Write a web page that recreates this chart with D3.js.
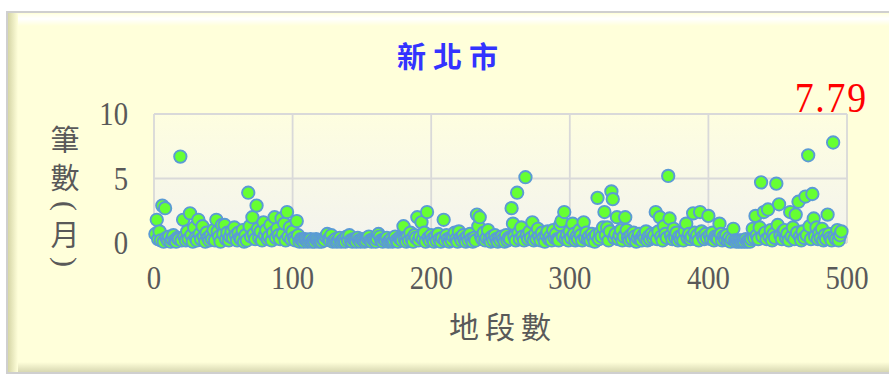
<!DOCTYPE html>
<html><head><meta charset="utf-8">
<script src="https://cdn.jsdelivr.net/npm/d3@7"></script>
<style>html,body{margin:0;padding:0;background:#fff;}svg{display:block;}</style>
</head><body>
<svg id="c" width="889" height="377"></svg>
<script>
const title = "新北市";
const xTitle = "地段數";
const yTitleChars = ["筆","數","(","月",")"];
const maxLabel = "7.79";
const xTicks = [0,100,200,300,400,500];
const yTicks = [0,5,10];
const xDomain = [0,500];
const yDomain = [0,10];
// 筆數(月) per 地段, x = index + 1
const values = [
0.7,1.8,0.3,0.9,0.2,2.9,0.1,2.7,0.4,0.2,0.5,0.1,0.3,0.6,0.2,0.1,0.4,0.3,6.7,0.2,
1.8,0.5,0.2,0.9,0.3,2.3,0.6,0.1,1.2,0.4,0.2,1.8,0.7,0.3,1.3,0.5,0.1,0.8,0.4,0.2,
0.6,0.3,1.0,0.2,1.8,0.9,0.5,0.1,1.4,0.7,1.4,0.3,0.8,0.2,0.5,0.9,0.4,1.2,0.6,0.2,
0.8,0.4,0.3,1.0,0.1,0.6,0.2,3.9,1.3,0.5,2.0,0.7,0.3,2.9,1.1,0.4,0.9,0.2,1.6,0.6,
1.0,0.3,0.5,1.4,0.2,0.8,2.0,0.4,1.1,0.6,0.3,1.9,0.7,1.5,0.2,2.4,0.5,1.2,0.3,0.9,
0.4,0.2,1.7,0.6,0.1,0.3,0.2,0.1,0.3,0.2,0.1,0.2,0.3,0.1,0.2,0.1,0.3,0.2,0.1,0.2,
0.1,0.3,0.2,0.5,0.7,0.3,0.2,0.6,0.1,0.2,0.3,0.1,0.2,0.4,0.1,0.2,0.3,0.1,0.5,0.2,
0.6,0.2,0.1,0.3,0.2,0.1,0.4,0.2,0.1,0.3,0.2,0.1,0.2,0.4,0.5,0.2,0.1,0.3,0.2,0.1,
0.3,0.7,0.5,0.2,0.1,0.3,0.2,0.4,0.1,0.2,0.3,0.1,0.2,0.5,0.2,0.1,0.4,0.3,0.2,1.3,
0.3,0.1,0.5,0.2,0.8,0.3,0.1,0.6,0.4,2.0,0.2,0.5,1.6,0.3,0.8,0.1,2.4,0.4,0.2,0.6,
0.3,0.1,0.5,0.2,0.7,0.3,0.1,0.4,1.8,0.2,0.6,0.3,0.1,0.4,0.2,0.5,0.8,0.3,0.1,0.9,
0.4,0.2,0.6,0.3,0.1,0.5,0.2,0.7,0.3,0.1,0.4,0.2,2.2,1.3,2.0,0.5,0.3,0.8,0.2,0.4,
1.0,0.3,0.1,0.5,0.2,0.6,0.3,0.1,0.4,0.2,0.5,0.3,0.1,0.6,0.2,0.4,0.3,2.7,1.5,0.5,
0.2,3.9,0.8,0.3,1.2,0.5,0.2,5.1,0.6,0.3,0.9,0.4,1.6,0.2,0.7,0.3,1.1,0.5,0.2,0.8,
0.4,0.1,0.6,0.9,0.3,0.5,0.2,1.0,0.4,0.7,0.3,0.2,1.4,1.7,0.5,2.4,0.3,0.6,0.2,0.9,
0.4,1.5,0.7,0.2,0.5,0.3,1.0,0.6,0.2,1.6,0.4,0.8,0.3,0.5,0.2,0.7,0.4,0.1,0.6,3.5,
0.3,0.8,0.5,1.2,2.4,0.6,1.2,0.2,0.9,4.0,3.4,0.4,0.7,2.0,0.3,0.6,1.0,0.2,0.5,2.0,
1.0,0.4,0.2,0.6,0.3,0.8,0.5,0.1,0.4,0.7,0.3,0.2,0.6,0.4,0.9,0.2,0.5,0.3,0.7,0.4,
0.6,2.4,0.3,0.9,2.0,0.5,0.2,1.3,0.7,0.4,5.2,1.9,0.6,0.3,1.1,0.4,0.8,0.2,0.5,0.3,
0.6,0.2,0.9,1.5,0.4,0.7,0.3,0.5,2.3,0.8,0.3,0.6,0.2,2.4,0.9,0.5,0.3,0.7,0.4,2.1,
0.6,0.3,0.8,0.2,0.5,0.4,0.3,1.5,0.7,0.2,0.5,0.3,0.6,0.2,0.4,0.1,0.3,1.1,0.2,0.1,
0.2,0.1,0.2,0.1,0.2,0.1,0.3,0.1,0.2,0.1,0.3,1.1,0.4,2.1,0.6,0.3,1.2,4.7,0.5,2.4,
0.8,0.3,2.6,0.5,1.0,0.2,0.7,0.4,4.6,1.4,3.0,0.6,0.3,0.9,1.0,0.4,0.7,0.2,2.4,0.5,
1.2,0.3,2.2,0.8,3.2,0.5,0.2,0.9,0.4,3.6,0.6,6.8,1.3,0.3,3.8,1.9,0.5,1.2,0.3,0.8,
0.4,1.1,0.2,0.6,0.3,2.2,0.7,0.4,0.2,7.79,0.5,0.3,1.0,0.2,0.6,0.9
];

const svg = d3.select("#c");
const defs = svg.append("defs");
function lg(id, x2, y2, stops){
  const g = defs.append("linearGradient").attr("id",id).attr("x1",0).attr("y1",0).attr("x2",x2).attr("y2",y2);
  stops.forEach(s=>g.append("stop").attr("offset",s[0]).attr("stop-color",s[1]));
}
lg("plotbg",0,1,[[0,"#fefee0"],[1,"#f3f3ee"]]);
lg("leftbev",1,0,[[0,"#d6d6a6"],[1,"#ffffda"]]);
lg("topbev",0,1,[[0,"#ffffe8"],[0.4,"#ffffff"],[1,"#ffffda"]]);
lg("botbev",0,1,[[0,"#ffffda"],[1,"#d8d8b2"]]);

// frame
svg.append("rect").attr("x",7).attr("y",12).attr("width",884).attr("height",361).attr("fill","#ffffda");
svg.append("rect").attr("x",8).attr("y",14).attr("width",884).attr("height",12).attr("fill","url(#topbev)");
svg.append("rect").attr("x",8).attr("y",362).attr("width",884).attr("height",10).attr("fill","url(#botbev)");
svg.append("rect").attr("x",8).attr("y",13).attr("width",10).attr("height",359).attr("fill","url(#leftbev)");
svg.append("rect").attr("x",7).attr("y",12).attr("width",884).attr("height",361).attr("fill","none").attr("stroke","#cfcfcf").attr("stroke-width",2);

const x = d3.scaleLinear().domain(xDomain).range([154,847]);
const y = d3.scaleLinear().domain(yDomain).range([243,114]);

// plot area
svg.append("rect").attr("x",x(0)).attr("y",y(10)).attr("width",x(500)-x(0)).attr("height",y(0)-y(10)).attr("fill","url(#plotbg)");
const grid = svg.append("g").attr("stroke","#d9d9d9").attr("stroke-width",1.8);
xTicks.forEach(t=>grid.append("line").attr("x1",x(t)).attr("x2",x(t)).attr("y1",y(10)).attr("y2",y(0)));
yTicks.forEach(t=>grid.append("line").attr("x1",x(0)).attr("x2",x(500)).attr("y1",y(t)).attr("y2",y(t)));

// points
svg.append("g").selectAll("circle").data(values).join("circle")
  .attr("cx",(d,i)=>x(i+1)).attr("cy",d=>y(d)).attr("r",6.2)
  .attr("fill","#66ff33").attr("stroke","#5b9bd5").attr("stroke-width",1.9);

const numFont = "'Liberation Serif', 'DejaVu Serif', serif";
// y tick labels
svg.append("g").selectAll("text").data(yTicks).join("text")
  .attr("transform",d=>`translate(128,${y(d)+11}) scale(0.87,1)`)
  .attr("text-anchor","end").attr("font-family",numFont).attr("font-size",33).attr("fill","#595959")
  .text(d=>d);
// x tick labels
svg.append("g").selectAll("text").data(xTicks).join("text")
  .attr("transform",d=>`translate(${x(d)},${289}) scale(0.87,1)`)
  .attr("text-anchor","middle").attr("font-family",numFont).attr("font-size",33).attr("fill","#595959")
  .text(d=>d);

const cjk = "'Noto Sans CJK TC','Noto Sans CJK SC',sans-serif";
// title
svg.append("text").attr("x",451).attr("y",68).attr("text-anchor","middle")
  .attr("font-family",cjk).attr("font-weight","bold").attr("font-size",29).attr("letter-spacing",7)
  .attr("fill","#3333ff").text(title);
// x title
svg.append("text").attr("x",503).attr("y",338).attr("text-anchor","middle")
  .attr("font-family",cjk).attr("font-size",30).attr("letter-spacing",6)
  .attr("fill","#595959").text(xTitle);
// y title (vertical, parentheses turned)
const yPos = [141,179,206,236,262];
const yt = svg.append("g");
yTitleChars.forEach((c,i)=>{
  const isParen = (c==="(" || c===")");
  yt.append("text")
    .attr("transform", isParen ? `translate(65,${yPos[i]}) rotate(90)` : `translate(65,${yPos[i]})`)
    .attr("dy", isParen ? "0.3em" : "0.36em").attr("text-anchor","middle")
    .attr("font-family", isParen ? numFont : cjk)
    .attr("font-size", isParen ? 30 : 29).attr("fill","#595959").text(c);
});
// max label
svg.append("text").attr("transform","translate(868,112) scale(0.9,1)").attr("text-anchor","end")
  .attr("font-family",numFont).attr("font-size",42).attr("letter-spacing",2).attr("fill","#ff0000").text(maxLabel);
</script>
</body></html>
